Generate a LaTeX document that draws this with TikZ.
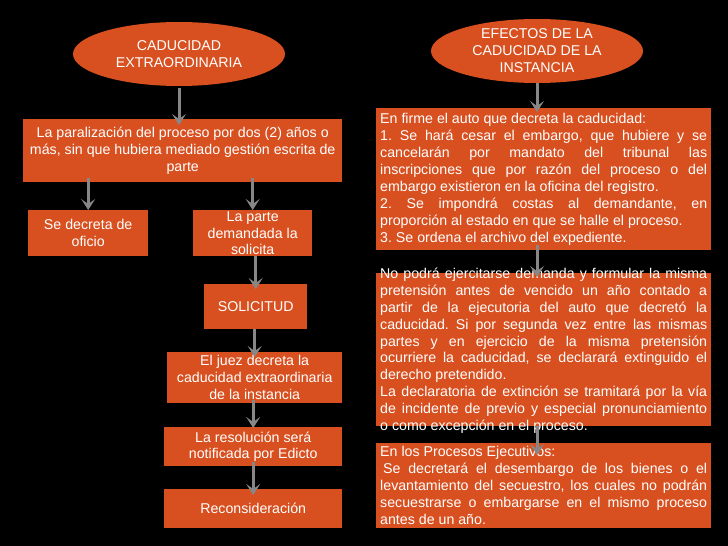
\documentclass[tikz,border=0pt]{standalone}
\usepackage{fontspec}
\setmainfont{Liberation Sans}
\usetikzlibrary{shapes.geometric,arrows.meta}
\definecolor{boxorange}{RGB}{216,80,32}
\definecolor{arrowgray}{RGB}{135,135,135}
\frenchspacing
\begin{document}
\begin{tikzpicture}[x=1pt,y=-1pt,
  box/.style={fill=boxorange, draw=none, inner sep=0pt, anchor=north west},
  oval/.style={ellipse, fill=boxorange, inner sep=0pt, minimum width=212pt, minimum height=64pt, text=white, align=center, font=\fontsize{14.2}{16.9}\selectfont},
  txt/.style={text=white, font=\fontsize{14.2}{16.9}\selectfont, inner sep=0pt},
  ctxt/.style={txt, align=center},
  jtxt/.style={txt, text width=327pt, align=justify},
  arr/.style={draw=arrowgray, line width=3pt, -{Stealth[length=11pt,width=14pt,inset=5pt]}}
]
\useasboundingbox (0,0) rectangle (728,546);
\fill[black] (0,0) rectangle (728,546);

% left column
\node[oval] (e1) at (179,54) {CADUCIDAD\\EXTRAORDINARIA};
\node[box, minimum width=319pt, minimum height=63pt] (b1) at (23,119) {};
\node[ctxt] at (b1.center) {La paralización del proceso por dos (2) años o\\más, sin que hubiera mediado gestión escrita de\\parte};
\node[box, minimum width=120pt, minimum height=46pt] (b2) at (28,210) {};
\node[ctxt] at (b2.center) {Se decreta de\\oficio};
\node[box, minimum width=119pt, minimum height=46pt] (b3) at (193,210) {};
\node[ctxt] at (b3.center) {La parte\\demandada la\\solicita};
\node[box, minimum width=103pt, minimum height=45pt] (b4) at (204,284) {};
\node[ctxt] at (b4.center) {SOLICITUD};
\node[box, minimum width=175pt, minimum height=51pt] (b5) at (167,352) {};
\node[ctxt] at (b5.center) {El juez decreta la\\caducidad extraordinaria\\de la instancia};
\node[box, minimum width=178pt, minimum height=39pt] (b6) at (164,427) {};
\node[ctxt] at (b6.center) {La resolución será\\notificada por Edicto};
\node[box, minimum width=178pt, minimum height=39pt] (b7) at (164,489) {};
\node[ctxt] at (b7.center) {Reconsideración};

% right column
\node[oval] (e2) at (537,51) {EFECTOS DE LA\\CADUCIDAD DE LA\\INSTANCIA};
\node[box, minimum width=335pt, minimum height=142pt] (r1) at (376,108) {};
\node[jtxt] at (r1.center) {En firme el auto que decreta la caducidad:\\
1. Se hará cesar el embargo, que hubiere y se\linebreak
cancelarán por mandato del tribunal las\linebreak
inscripciones que por razón del proceso o del\linebreak
embargo existieron en la oficina del registro.\\
2. Se impondrá costas al demandante, en\linebreak
proporción al estado en que se halle el proceso.\\
3. Se ordena el archivo del expediente.};
\node[box, minimum width=335pt, minimum height=153pt] (r2) at (376,273) {};
\node[jtxt] at ([yshift=-1pt]r2.center) {No podrá ejercitarse demanda y formular la misma\linebreak
pretensión antes de vencido un año contado a\linebreak
partir de la ejecutoria del auto que decretó la\linebreak
caducidad. Si por segunda vez entre las mismas\linebreak
partes y en ejercicio de la misma pretensión\linebreak
ocurriere la caducidad, se declarará extinguido el\linebreak
derecho pretendido.\\
La declaratoria de extinción se tramitará por la vía\linebreak
de incidente de previo y especial pronunciamiento\linebreak
o como excepción en el proceso.};
\node[box, minimum width=335pt, minimum height=85pt] (r3) at (376,443) {};
\node[jtxt] at (r3.center) {En los Procesos Ejecutivos:\\
\hspace*{3pt}Se decretará el desembargo de los bienes o el\linebreak
levantamiento del secuestro, los cuales no podrán\linebreak
secuestrarse o embargarse en el mismo proceso\linebreak
antes de un año.};

% connectors
\draw[arr, shorten <=2pt, shorten >=-6pt] (e1.south) -- (e1.south |- b1.north);
\draw[arr, shorten <=-4pt] (b2.north |- b1.south) -- (b2.north);
\draw[arr, shorten <=-4pt] (b3.north |- b1.south) -- (b3.north);
\draw[arr, shorten >=-5pt] (b4.north |- b3.south) -- (b4.north);
\draw[arr, shorten >=-5pt] (b5.north |- b4.south) -- (b5.north);
\draw[arr, shorten <=-3pt, shorten >=-1pt] (b6.north |- b5.south) -- (b6.north);
\draw[arr, shorten <=-4pt, shorten >=-6pt] (b7.north |- b6.south) -- (b7.north);
\draw[arr, shorten >=-4pt] (e2.south) -- (e2.south |- r1.north);
\draw[arr, shorten <=-5pt, shorten >=-4pt] (e2.south |- r1.south) -- (e2.south |- r2.north);
\draw[arr, shorten >=-12pt] (e2.south |- r2.south) -- (e2.south |- r3.north);
\end{tikzpicture}
\end{document}
